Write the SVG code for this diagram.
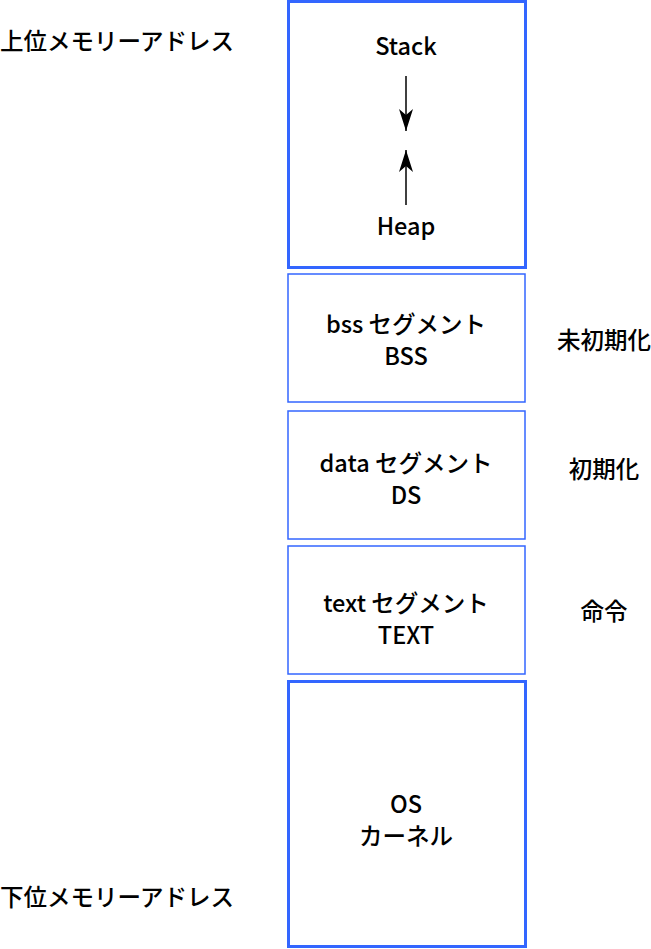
<svg xmlns="http://www.w3.org/2000/svg" width="651" height="949" viewBox="0 0 651 949">
<style>
.box{fill:#fff;stroke:#3366ff}
.thick{stroke-width:3}
.thin{stroke-width:1.5}
text{font-family:"Noto Sans CJK JP","Noto Sans",sans-serif;font-size:23.5px;font-weight:500;fill:#000}
.c{text-anchor:middle}
.arr{stroke:#000;stroke-width:1.5;fill:none}
</style>
<defs>
<marker id="ah" viewBox="0 0 22 14" refX="22" refY="7" markerWidth="22" markerHeight="14" markerUnits="userSpaceOnUse" orient="auto">
<path d="M0,0 L22,7 L0,14 L6,7 Z" fill="#000"/>
</marker>
</defs>
<g id="heap-stack">
<rect class="box thick" x="288.5" y="1.5" width="237" height="266"/>
<text class="c" x="406" y="55">Stack</text>
<text class="c" x="406" y="235">Heap</text>
</g>
<g id="bss">
<rect class="box thin" x="288" y="274" width="237" height="128"/>
<text class="c"><tspan x="406" y="333">bss セグメント</tspan><tspan x="406" y="365">BSS</tspan></text>
</g>
<g id="data">
<rect class="box thin" x="288" y="411" width="237" height="128"/>
<text class="c"><tspan x="406" y="472">data セグメント</tspan><tspan x="406" y="504">DS</tspan></text>
</g>
<g id="text-seg">
<rect class="box thin" x="288" y="546" width="237" height="128"/>
<text class="c"><tspan x="406" y="612">text セグメント</tspan><tspan x="406" y="644">TEXT</tspan></text>
</g>
<g id="os">
<rect class="box thick" x="288.5" y="681.5" width="237" height="265"/>
<text class="c"><tspan x="406" y="813">OS</tspan><tspan x="406" y="845">カーネル</tspan></text>
</g>
<g id="labels">
<text x="0" y="50">上位メモリーアドレス</text>
<text x="0" y="906">下位メモリーアドレス</text>
<text class="c" x="604" y="349">未初期化</text>
<text class="c" x="604" y="478">初期化</text>
<text class="c" x="604" y="620">命令</text>
</g>
<g id="connectors">
<line class="arr" x1="406" y1="76" x2="406" y2="131" marker-end="url(#ah)"/>
<line class="arr" x1="406" y1="205" x2="406" y2="150" marker-end="url(#ah)"/>
</g>
</svg>
